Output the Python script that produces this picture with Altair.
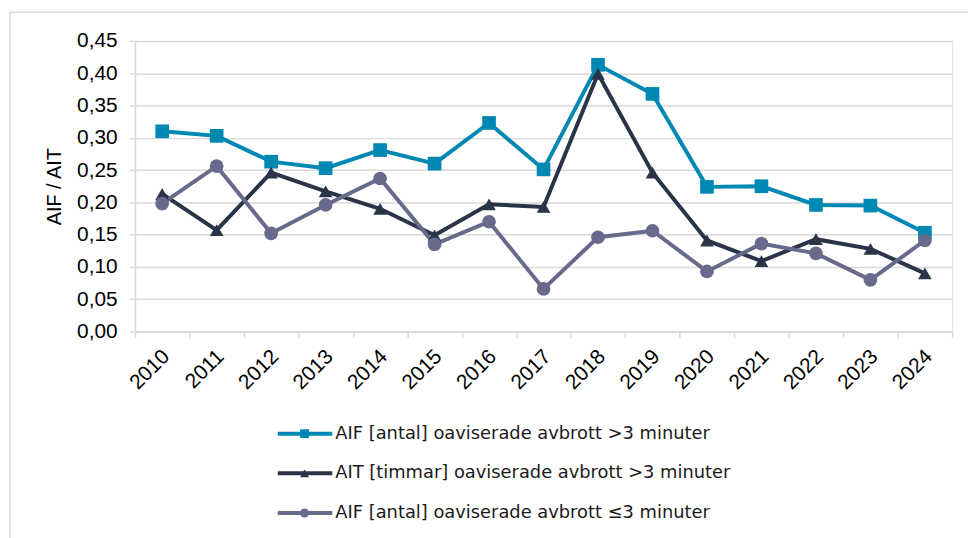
import altair as alt
import pandas as pd

years = [str(y) for y in range(2010, 2025)]
series = [
    "AIF [antal] oaviserade avbrott >3 minuter",
    "AIT [timmar] oaviserade avbrott >3 minuter",
    "AIF [antal] oaviserade avbrott \u22643 minuter",
]
aif_long = [0.310, 0.303, 0.263, 0.253, 0.281, 0.260, 0.323, 0.251, 0.413, 0.368,
            0.224, 0.225, 0.196, 0.195, 0.153]
ait_long = [0.213, 0.157, 0.246, 0.217, 0.190, 0.149, 0.197, 0.193, 0.399, 0.246,
            0.141, 0.109, 0.143, 0.128, 0.090]
aif_short = [0.198, 0.256, 0.152, 0.196, 0.237, 0.135, 0.170, 0.066, 0.146, 0.156,
             0.093, 0.136, 0.121, 0.080, 0.141]
colors = ["#0088B4", "#2A3447", "#686A8C"]
shapes = ["square", "triangle-up", "circle"]
y_ticks = [0.0, 0.05, 0.10, 0.15, 0.20, 0.25, 0.30, 0.35, 0.40, 0.45]

rows = []
for name, vals in zip(series, [aif_long, ait_long, aif_short]):
    for yr, v in zip(years, vals):
        rows.append({"year": yr, "series": name, "value": v})
df = pd.DataFrame(rows)
legend_df = pd.DataFrame({"series": series})

FONT = "DejaVu Sans"
color_scale = alt.Scale(domain=series, range=colors)
shape_scale = alt.Scale(domain=series, range=shapes)

x_enc = alt.X(
    "year:N",
    sort=years,
    scale=alt.Scale(paddingInner=0, paddingOuter=0),
    axis=alt.Axis(
        title=None,
        labelAngle=-45,
        tickBand="extent",
        tickSize=6,
        tickColor="#d9d9d9",
        domainColor="#d9d9d9",
        domainWidth=1.5,
        tickWidth=1.5,
        labelFontSize=21,
        labelPadding=8,
        labelOffset=-4,
        grid=False,
    ),
)
y_enc = alt.Y(
    "value:Q",
    scale=alt.Scale(domain=[0, 0.45], nice=False, zero=True),
    axis=alt.Axis(
        title="AIF / AIT",
        titleFontSize=20,
        titleFontWeight="normal",
        titlePadding=12,
        values=y_ticks,
        labelExpr="replace(format(datum.value, '.2f'), '.', ',')",
        labelFontSize=21,
        labelPadding=12,
        tickSize=6,
        tickColor="#d9d9d9",
        tickWidth=1.5,
        domainColor="#d9d9d9",
        domainWidth=1.5,
        gridColor="#d9d9d9",
        gridWidth=1.5,
    ),
)

lines = alt.Chart(df).mark_line(strokeWidth=4).encode(
    x=x_enc,
    y=y_enc,
    color=alt.Color("series:N", scale=color_scale, legend=None),
    detail="series:N",
)
points = alt.Chart(df).mark_point(filled=True, opacity=1, size=190).encode(
    x=x_enc,
    y=y_enc,
    color=alt.Color("series:N", scale=color_scale, legend=None),
    shape=alt.Shape("series:N", scale=shape_scale, legend=None),
)
main = alt.layer(lines, points)

ly = alt.Y("series:N", sort=series,
           scale=alt.Scale(type="point", domain=series, range=[396, 476], padding=0),
           axis=None)
leg_rule = alt.Chart(legend_df).mark_rule(strokeWidth=4).encode(
    x=alt.value(144), x2=alt.value(199), y=ly,
    color=alt.Color("series:N", scale=color_scale, legend=None),
)
leg_pt = alt.Chart(legend_df).mark_point(filled=True, opacity=1, size=80).encode(
    x=alt.value(171), y=ly,
    color=alt.Color("series:N", scale=color_scale, legend=None),
    shape=alt.Shape("series:N", scale=shape_scale, legend=None),
)
leg_txt = alt.Chart(legend_df).mark_text(align="left", baseline="middle", fontSize=18, font=FONT, color="#1a1a1a").encode(
    x=alt.value(202), y=ly, text="series:N",
)
legend = alt.layer(leg_rule, leg_pt, leg_txt)

border = alt.Chart(pd.DataFrame({"a": [0]})).mark_rect(fill=None, stroke="#d9d9d9", strokeWidth=1.5).encode(
    x=alt.value(-126), x2=alt.value(900), y=alt.value(-29), y2=alt.value(700),
)

chart = alt.layer(border, main, legend).resolve_scale(y="independent").properties(
    width=824,
    height=293,
    padding={"left": 128, "top": 31, "right": 16, "bottom": 206},
    autosize=alt.AutoSizeParams(type="none"),
).configure_view(stroke=None).configure_axis(
    labelFont=FONT, titleFont=FONT, labelColor="#1a1a1a", titleColor="#1a1a1a"
).configure(background="white")

chart.save("out.html", embed_options={"renderer": "svg", "actions": False})
